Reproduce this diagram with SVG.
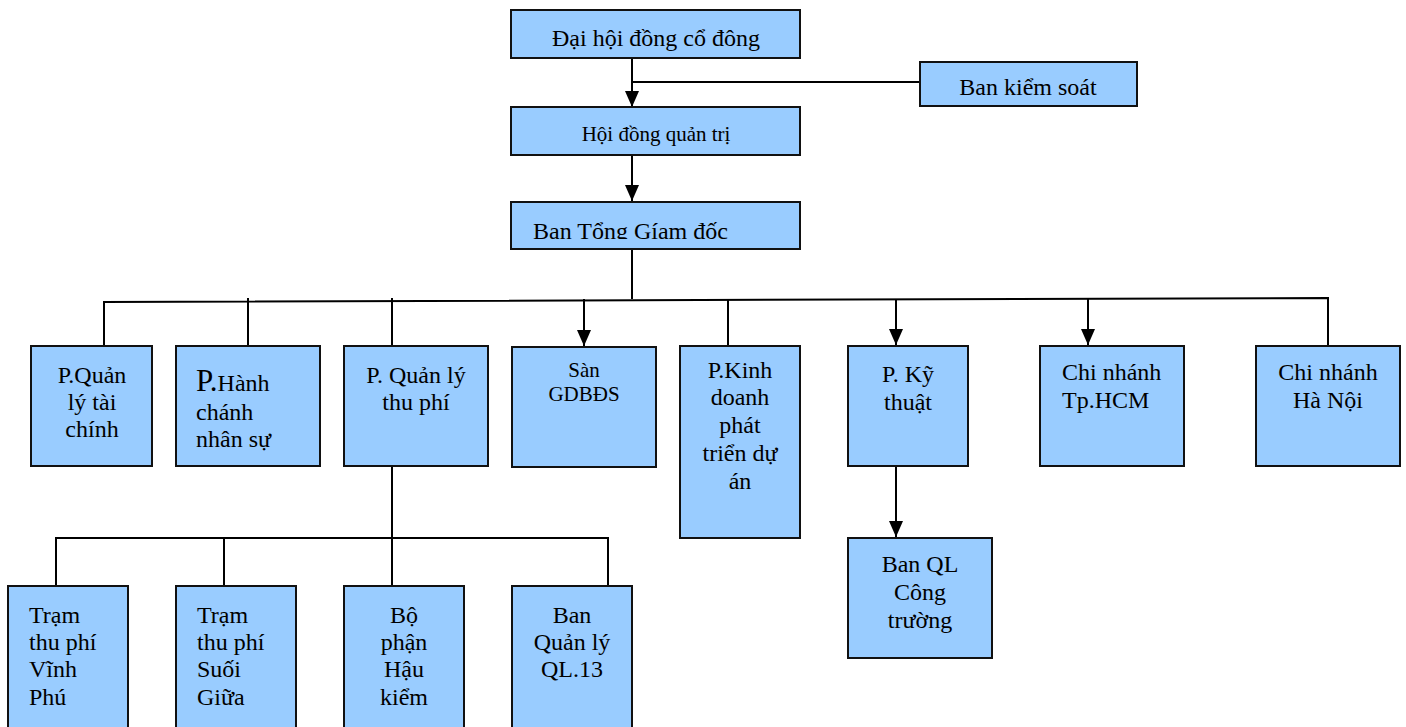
<svg xmlns="http://www.w3.org/2000/svg" width="1406" height="727" viewBox="0 0 1406 727">
<style>
.b{fill:#99CCFF;stroke:#111;stroke-width:2}
.t{font-family:"Liberation Serif","Times New Roman",serif;font-size:24px;fill:#000}
.c{text-anchor:middle}
.l{fill:none;stroke:#000;stroke-width:2}
</style>
<defs>
<marker id="ah" markerWidth="16" markerHeight="14" refX="16" refY="7" orient="auto" markerUnits="userSpaceOnUse" viewBox="0 0 16 14">
<path d="M0,0 L16,7 L0,14 Z" fill="#000"/>
</marker>
<clipPath id="clipBTG"><rect x="511" y="202" width="289" height="37"/></clipPath>
</defs>
<g id="connectors">
<line class="l" x1="632" y1="58" x2="632" y2="107" marker-end="url(#ah)"/>
<line class="l" x1="632" y1="82" x2="920" y2="82"/>
<line class="l" x1="632" y1="155" x2="632" y2="201" marker-end="url(#ah)"/>
<line class="l" x1="632" y1="249" x2="632" y2="299"/>
<polyline class="l" points="104,346 104,302 1328,298 1328,346"/>
<line class="l" x1="248" y1="298" x2="248" y2="346"/>
<line class="l" x1="392" y1="298" x2="392" y2="346"/>
<line class="l" x1="584" y1="299" x2="584" y2="346" marker-end="url(#ah)"/>
<line class="l" x1="728" y1="299" x2="728" y2="346"/>
<line class="l" x1="896" y1="299" x2="896" y2="345" marker-end="url(#ah)"/>
<line class="l" x1="1088" y1="298" x2="1088" y2="345" marker-end="url(#ah)"/>
<line class="l" x1="896" y1="466" x2="896" y2="537" marker-end="url(#ah)"/>
<line class="l" x1="392" y1="466" x2="392" y2="586"/>
<polyline class="l" points="56,586 56,538 608,538 608,586"/>
<line class="l" x1="224" y1="538" x2="224" y2="586"/>
</g>
<g id="dhdcd"><rect class="b" x="511" y="10" width="289" height="48"/><text class="t c" x="656" y="46">Đại hội đồng cổ đông</text></g>
<g id="bks"><rect class="b" x="920" y="62" width="217" height="44"/><text class="t c" x="1028" y="95">Ban kiểm soát</text></g>
<g id="hdqt"><rect class="b" x="511" y="107" width="289" height="48"/><text class="t c" x="656" y="141" style="font-size:21px">Hội đồng quản trị</text></g>
<g id="btgd"><rect class="b" x="511" y="202" width="289" height="47"/><text class="t" x="533" y="239" clip-path="url(#clipBTG)">Ban Tổng Gíam đốc</text></g>
<g id="pqltc"><rect class="b" x="31" y="346" width="121" height="120"/><text class="t c" x="92" y="383">P.Quản</text><text class="t c" x="92" y="410">lý tài</text><text class="t c" x="92" y="437">chính</text></g>
<g id="phcns"><rect class="b" x="176" y="346" width="144" height="120"/><text class="t" x="196" y="391"><tspan style="font-size:31px">P.</tspan>Hành</text><text class="t" x="196" y="420">chánh</text><text class="t" x="196" y="447">nhân sự</text></g>
<g id="pqltp"><rect class="b" x="344" y="346" width="144" height="120"/><text class="t c" x="416" y="383">P. Quản lý</text><text class="t c" x="416" y="410">thu phí</text></g>
<g id="san"><rect class="b" x="512" y="347" width="144" height="120"/><text class="t c" x="584" y="377" style="font-size:21px">Sàn</text><text class="t c" x="584" y="401" style="font-size:21px">GDBĐS</text></g>
<g id="pkd"><rect class="b" x="680" y="346" width="120" height="192"/><text class="t c" x="740" y="378">P.Kinh</text><text class="t c" x="740" y="405">doanh</text><text class="t c" x="740" y="433">phát</text><text class="t c" x="740" y="461">triển dự</text><text class="t c" x="740" y="489">án</text></g>
<g id="pkt"><rect class="b" x="848" y="346" width="120" height="120"/><text class="t c" x="908" y="382">P. Kỹ</text><text class="t c" x="908" y="410">thuật</text></g>
<g id="cnhcm"><rect class="b" x="1040" y="346" width="144" height="120"/><text class="t" x="1062" y="380">Chi nhánh</text><text class="t" x="1062" y="408">Tp.HCM</text></g>
<g id="cnhn"><rect class="b" x="1256" y="346" width="144" height="120"/><text class="t c" x="1328" y="380">Chi nhánh</text><text class="t c" x="1328" y="408">Hà Nội</text></g>
<g id="banqlct"><rect class="b" x="848" y="538" width="144" height="120"/><text class="t c" x="920" y="572">Ban QL</text><text class="t c" x="920" y="600">Công</text><text class="t c" x="920" y="628">trường</text></g>
<g id="tvp"><rect class="b" x="8" y="586" width="120" height="150"/><text class="t" x="29" y="623">Trạm</text><text class="t" x="29" y="650">thu phí</text><text class="t" x="29" y="677">Vĩnh</text><text class="t" x="29" y="705">Phú</text></g>
<g id="tsg"><rect class="b" x="176" y="586" width="120" height="150"/><text class="t" x="197" y="623">Trạm</text><text class="t" x="197" y="650">thu phí</text><text class="t" x="197" y="677">Suối</text><text class="t" x="197" y="705">Giữa</text></g>
<g id="bphk"><rect class="b" x="344" y="586" width="120" height="150"/><text class="t c" x="404" y="623">Bộ</text><text class="t c" x="404" y="650">phận</text><text class="t c" x="404" y="677">Hậu</text><text class="t c" x="404" y="705">kiểm</text></g>
<g id="bql13"><rect class="b" x="512" y="586" width="120" height="150"/><text class="t c" x="572" y="623">Ban</text><text class="t c" x="572" y="650">Quản lý</text><text class="t c" x="572" y="677">QL.13</text></g>
</svg>
